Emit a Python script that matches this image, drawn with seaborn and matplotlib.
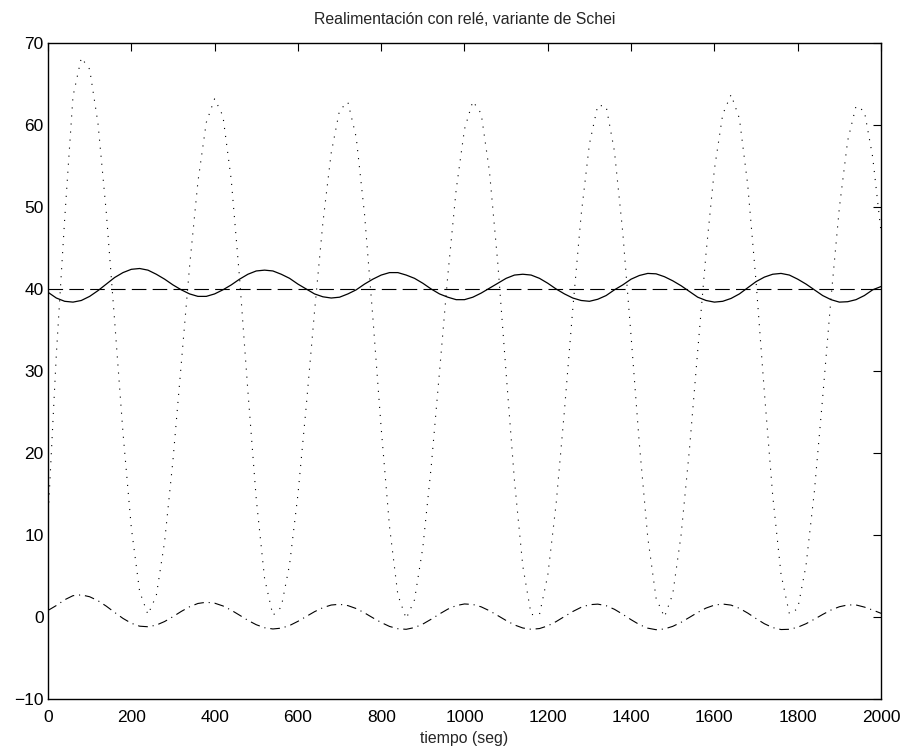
import numpy as np
import pandas as pd
import matplotlib
matplotlib.use("Agg")
import matplotlib.pyplot as plt
import seaborn as sns

# time samples (seg)
t = np.arange(0, 2001, 20)

# controlled output (solid)
y_out = [39.6, 38.9, 38.5, 38.4, 38.6, 39.1, 39.8, 40.6, 41.4, 42.0,
         42.4, 42.5, 42.3, 41.8, 41.2, 40.5, 39.9, 39.4, 39.1, 39.1,
         39.4, 39.9, 40.5, 41.2, 41.8, 42.2, 42.3, 42.2, 41.8, 41.3,
         40.6, 40.0, 39.4, 39.05, 38.9, 39.0, 39.4, 39.9, 40.6, 41.2,
         41.7, 42.0, 42.0, 41.7, 41.3, 40.7, 40.0, 39.4, 39.0, 38.7,
         38.7, 39.0, 39.5, 40.1, 40.7, 41.3, 41.7, 41.8, 41.7, 41.3,
         40.7, 40.0, 39.4, 38.9, 38.6, 38.5, 38.75, 39.2, 39.9, 40.5,
         41.2, 41.65, 41.9, 41.85, 41.5, 41.0, 40.4, 39.7, 39.0, 38.6,
         38.4, 38.5, 38.85, 39.4, 40.15, 40.9, 41.45, 41.8, 41.9, 41.7,
         41.2, 40.6, 39.9, 39.2, 38.7, 38.4, 38.45, 38.7, 39.2, 39.9,
         40.3]

# control signal (dotted)
u_ctrl = [12.0, 32.0, 48.5, 63.5, 68.2, 66.8, 60.2, 49.3, 36.1, 22.5,
          10.9, 3.1, 0.3, 2.6, 9.2, 19.1, 30.9, 42.8, 53.1, 60.3,
          63.2, 61.1, 53.3, 41.3, 27.5, 14.4, 4.7, 0.2, 1.2, 6.4,
          14.9, 25.7, 37.3, 48.1, 56.6, 61.8, 62.8, 58.5, 49.1, 36.5,
          23.0, 11.0, 2.7, -0.2, 2.1, 8.5, 18.3, 29.9, 41.7, 52.1,
          59.5, 62.9, 61.4, 54.3, 43.1, 29.7, 16.6, 6.2, 0.3, 0.3,
          5.1, 13.8, 25.2, 37.6, 49.0, 57.7, 62.4, 62.3, 56.8, 46.9,
          34.2, 21.0, 9.7, 2.3, 0.0, 2.8, 10.0, 20.4, 32.5, 44.4,
          54.6, 61.3, 63.7, 60.8, 52.7, 40.9, 27.4, 14.8, 5.2, 0.4,
          1.0, 6.3, 15.3, 26.8, 38.9, 49.9, 58.1, 62.3, 61.7, 56.1,
          47.0]

# error / deviation (dash-dot)
e_dev = [0.8, 1.4, 2.1, 2.6, 2.7, 2.47, 1.99, 1.32, 0.56, -0.17,
         -0.76, -1.12, -1.19, -0.99, -0.55, 0.04, 0.68, 1.25, 1.65, 1.8,
         1.69, 1.35, 0.83, 0.22, -0.41, -0.94, -1.31, -1.46, -1.36, -1.04,
         -0.53, 0.06, 0.65, 1.14, 1.46, 1.55, 1.39, 1.03, 0.5, -0.1,
         -0.67, -1.15, -1.43, -1.5, -1.29, -0.86, -0.27, 0.37, 0.96, 1.39,
         1.59, 1.53, 1.24, 0.76, 0.17, -0.43, -0.97, -1.34, -1.5, -1.41,
         -1.08, -0.56, 0.06, 0.67, 1.18, 1.5, 1.57, 1.38, 0.94, 0.33,
         -0.33, -0.93, -1.36, -1.55, -1.46, -1.14, -0.65, -0.05, 0.56, 1.09,
         1.45, 1.58, 1.45, 1.06, 0.48, -0.19, -0.82, -1.29, -1.53, -1.5,
         -1.25, -0.82, -0.27, 0.31, 0.85, 1.25, 1.47, 1.47, 1.21, 0.85,
         0.45]

# setpoint (dashed)
ref_t = [0, 2000]
ref = [40, 40]

sns.set_style("white")
plt.rcParams["font.family"] = ["Liberation Sans", "DejaVu Sans"]
plt.rcParams["lines.scale_dashes"] = False

fig = plt.figure(figsize=(9.04, 7.49), dpi=100)
ax = fig.add_axes([48 / 904, 50 / 749, 833 / 904, 656 / 749])

sns.lineplot(x=t, y=u_ctrl, ax=ax, color="black", linewidth=0.8)
ax.lines[-1].set_dashes((0.8, 5.0))
sns.lineplot(x=t, y=y_out, ax=ax, color="black", linewidth=0.9)
sns.lineplot(x=ref_t, y=ref, ax=ax, color="black", linewidth=0.8)
ax.lines[-1].set_dashes((10.5, 4.5))
sns.lineplot(x=t, y=e_dev, ax=ax, color="black", linewidth=0.8)
ax.lines[-1].set_dashes((7.0, 3.5, 0.8, 3.5))

ax.set_xlim(0, 2000)
ax.set_ylim(-10, 70)
ax.set_xticks(range(0, 2001, 200))
ax.set_yticks(range(-10, 71, 10))
ax.tick_params(direction="in", length=5.5, width=0.8, top=True, right=True,
               labelsize=12.5, pad=3, colors="black")
ax.tick_params(axis="x", pad=8)
for s in ax.spines.values():
    s.set_color("black")
    s.set_linewidth(1.0)

ax.set_title("Realimentación con relé, variante de Schei", fontsize=11.4, pad=14)
ax.set_xlabel("tiempo (seg)", fontsize=11.4, labelpad=4)
ax.set_ylabel("")

fig.savefig("out.png", dpi=100, facecolor="white")
